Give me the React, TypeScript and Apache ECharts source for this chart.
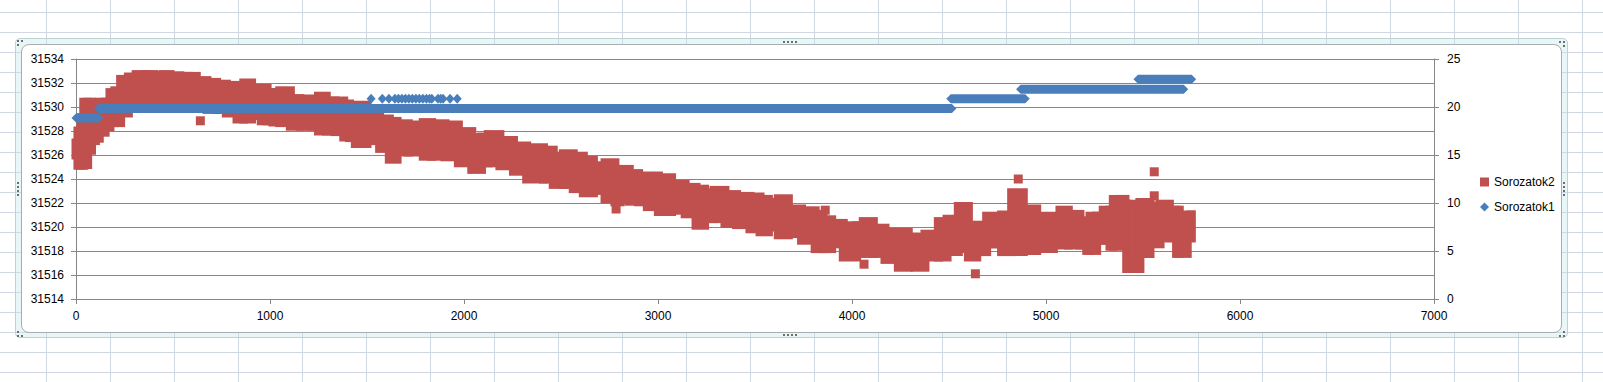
import React, { useEffect, useRef } from "react";
import * as echarts from "echarts";

// ---- data ----
const xTicks = [0, 1000, 2000, 3000, 4000, 5000, 6000, 7000];
const leftTicks = [31514, 31516, 31518, 31520, 31522, 31524, 31526, 31528, 31530, 31532, 31534];
const rightTicks = [0, 5, 10, 15, 20, 25];

// Sorozatok2: dense cloud of square markers, read as columns [x, lowest value, highest value]
const seriesTwoColumns: number[][] = [
  [0, 31526.0, 31527.0], [10, 31525.15, 31528.0], [25, 31525.15, 31529.1], [40, 31525.2, 31530.4],
  [60, 31526.4, 31530.4], [80, 31527.2, 31530.1], [100, 31527.4, 31529.8], [120, 31527.9, 31530.4],
  [150, 31528.35, 31530.4], [175, 31528.7, 31531.2], [200, 31528.7, 31531.35], [230, 31529.5, 31532.3],
  [270, 31529.9, 31532.5], [310, 31530.0, 31532.7], [360, 31530.0, 31532.7], [400, 31530.0, 31532.65],
  [450, 31530.0, 31532.7], [485, 31530.0, 31532.6], [535, 31530.0, 31532.55], [580, 31530.0, 31532.55],
  [620, 31530.0, 31532.2], [675, 31529.8, 31532.05], [725, 31529.8, 31531.9], [775, 31529.5, 31531.8],
  [830, 31529.0, 31531.6], [865, 31529.0, 31532.0], [905, 31529.3, 31531.55], [955, 31528.85, 31531.55],
  [985, 31528.85, 31531.2], [1015, 31528.75, 31531.2], [1050, 31528.7, 31531.35], [1105, 31528.4, 31530.7],
  [1155, 31528.4, 31530.65], [1205, 31528.4, 31530.65], [1250, 31528.0, 31530.9], [1290, 31528.0, 31530.5],
  [1335, 31527.95, 31530.5], [1380, 31527.5, 31530.25], [1410, 31527.45, 31530.1], [1440, 31526.95, 31530.15],
  [1500, 31527.2, 31529.4], [1565, 31526.55, 31529.0], [1615, 31525.65, 31528.8], [1655, 31526.25, 31528.6],
  [1713, 31526.25, 31528.5], [1790, 31525.9, 31528.7], [1833, 31525.9, 31528.6], [1902, 31525.85, 31528.5],
  [1971, 31525.35, 31527.95], [2040, 31524.8, 31527.45], [2090, 31525.35, 31527.5], [2125, 31525.35, 31527.7],
  [2185, 31525.1, 31527.2], [2255, 31524.65, 31526.75], [2323, 31524.0, 31526.6], [2410, 31524.0, 31526.4],
  [2460, 31523.55, 31525.9], [2512, 31523.55, 31526.1], [2563, 31523.2, 31525.9], [2615, 31522.85, 31525.55],
  [2667, 31523.05, 31525.1], [2727, 31522.35, 31525.35], [2778, 31522.1, 31524.7], [2805, 31522.35, 31524.8],
  [2852, 31522.15, 31524.45], [2900, 31522.1, 31524.2], [2945, 31521.7, 31524.25], [3002, 31521.3, 31524.1],
  [3070, 31521.4, 31523.55], [3140, 31521.1, 31523.3], [3196, 31520.15, 31523.15], [3240, 31520.7, 31522.85],
  [3289, 31520.7, 31523.05], [3345, 31520.3, 31522.7], [3405, 31520.2, 31522.55], [3474, 31519.85, 31522.5],
  [3526, 31519.6, 31522.3], [3569, 31520.0, 31522.05], [3620, 31519.35, 31522.35], [3672, 31519.45, 31521.5],
  [3740, 31518.9, 31521.35], [3810, 31518.2, 31521.05], [3850, 31518.2, 31520.6], [3895, 31518.6, 31520.3],
  [3955, 31517.5, 31520.1], [4024, 31517.8, 31520.1], [4058, 31517.8, 31520.45], [4110, 31517.8, 31519.9],
  [4170, 31517.3, 31519.55], [4239, 31516.65, 31519.55], [4290, 31517.25, 31519.15], [4325, 31516.65, 31519.15],
  [4376, 31517.5, 31519.4], [4445, 31517.5, 31520.45], [4490, 31517.95, 31520.65], [4548, 31518.2, 31521.7],
  [4600, 31517.5, 31519.65], [4643, 31517.95, 31520.15], [4694, 31518.6, 31520.9], [4737, 31518.6, 31520.65],
  [4771, 31517.95, 31521.0], [4823, 31517.95, 31522.85], [4883, 31518.05, 31521.5], [4952, 31518.2, 31520.9],
  [5038, 31518.9, 31520.85], [5072, 31518.5, 31521.4], [5115, 31518.5, 31521.05], [5175, 31518.5, 31520.5],
  [5210, 31518.05, 31520.5], [5227, 31518.05, 31520.9], [5261, 31518.9, 31520.9], [5295, 31518.9, 31521.4],
  [5330, 31518.4, 31521.4], [5347, 31518.4, 31522.3], [5381, 31519.2, 31522.3], [5407, 31519.2, 31521.9],
  [5416, 31516.55, 31521.9], [5450, 31516.55, 31521.35], [5484, 31517.8, 31522.05], [5536, 31518.6, 31521.75],
  [5588, 31519.1, 31521.9], [5636, 31519.1, 31521.4], [5673, 31517.8, 31521.4], [5687, 31517.8, 31520.9],
  [5728, 31519.1, 31521.0], [5748, 31519.1, 31521.0],
];

// Sorozatok2: isolated squares standing apart from the cloud
const seriesTwoOutliers: number[][] = [
  [641, 31528.85], [2784, 31521.5], [3862, 31521.4], [4062, 31516.9],
  [4636, 31516.1], [4857, 31524.0], [5558, 31524.6], [5558, 31522.6],
];

// Sorozatok1: runs of diamonds at constant level [first x, last x, value]
const seriesOneRuns: number[][] = [
  [0, 117, 18.85],
  [116, 4515, 19.85],
  [4509, 4893, 20.85],
  [4869, 5710, 21.85],
  [5474, 5751, 22.9],
];

// Sorozatok1: single diamonds above the main run
const seriesOneDotsX = [1521, 1579, 1613, 1644, 1662, 1680, 1698, 1716, 1734, 1752, 1770, 1788, 1806, 1822, 1834, 1866, 1880, 1892, 1928, 1965];
const seriesOneDotsValue = 20.85;

const RED = "#C0504D";
const BLUE = "#4A7EBB";
const AXIS = "#868686";
const FONT = "'Liberation Sans', Arial, sans-serif";
const HALF = 4.5;

export default function App() {
  const ref = useRef<HTMLDivElement>(null);

  useEffect(() => {
    document.body.style.margin = "0";
    if (!ref.current) return;
    const chart = echarts.init(ref.current, undefined, { renderer: "svg" });

    const redRender = (params: any, api: any) => {
      const i = params.dataIndex;
      const x0 = api.value(0);
      const lo = api.value(1);
      const hi = api.value(2);
      const next = seriesTwoColumns[i + 1];
      const x1 = next ? next[0] : x0;
      const pTop = api.coord([x0, hi]);
      const pBot = api.coord([x1, lo]);
      return {
        type: "rect",
        shape: {
          x: pTop[0] - HALF,
          y: pTop[1] - HALF,
          width: pBot[0] - pTop[0] + 2 * HALF,
          height: pBot[1] - pTop[1] + 2 * HALF,
        },
        style: { fill: RED },
      };
    };

    const blueRender = (params: any, api: any) => {
      const a = api.coord([api.value(0), api.value(2)]);
      const b = api.coord([api.value(1), api.value(2)]);
      const y = a[1];
      return {
        type: "polygon",
        shape: {
          points: [
            [a[0] - HALF, y],
            [a[0], y - HALF],
            [b[0], y - HALF],
            [b[0] + HALF, y],
            [b[0], y + HALF],
            [a[0], y + HALF],
          ],
        },
        style: { fill: BLUE },
      };
    };

    const label = { fontFamily: FONT, fontSize: 12, color: "#000" };

    chart.setOption({
      animation: false,
      grid: { left: 76, top: 59, width: 1358, height: 240, containLabel: false },
      legend: {
        orient: "vertical",
        left: 1475,
        top: 171,
        itemWidth: 9,
        itemHeight: 9,
        itemGap: 13,
        selectedMode: false,
        textStyle: { ...label, lineHeight: 12 },
        data: [
          { name: "Sorozatok2", icon: "rect" },
          { name: "Sorozatok1", icon: "diamond" },
        ],
      },
      xAxis: {
        type: "value",
        min: xTicks[0],
        max: xTicks[xTicks.length - 1],
        interval: xTicks[1] - xTicks[0],
        axisLine: { show: true, onZero: false, lineStyle: { color: AXIS } },
        axisTick: { show: true, length: 5, lineStyle: { color: AXIS } },
        splitLine: { show: false },
        axisLabel: { ...label, margin: 11, showMinLabel: true, showMaxLabel: true, formatter: (v: number) => String(v) },
      },
      yAxis: [
        {
          type: "value",
          position: "left",
          min: leftTicks[0],
          max: leftTicks[leftTicks.length - 1],
          interval: leftTicks[1] - leftTicks[0],
          axisLine: { show: true, lineStyle: { color: AXIS } },
          axisTick: { show: true, length: 5, lineStyle: { color: AXIS } },
          splitLine: { show: true, lineStyle: { color: AXIS, width: 1 } },
          axisLabel: { ...label, margin: 12, formatter: (v: number) => String(v) },
        },
        {
          type: "value",
          position: "right",
          min: rightTicks[0],
          max: rightTicks[rightTicks.length - 1],
          interval: rightTicks[1] - rightTicks[0],
          axisLine: { show: true, lineStyle: { color: AXIS } },
          axisTick: { show: true, length: 5, lineStyle: { color: AXIS } },
          splitLine: { show: false },
          axisLabel: { ...label, margin: 13, formatter: (v: number) => String(v) },
        },
      ],
      series: [
        {
          name: "Sorozatok2",
          type: "custom",
          xAxisIndex: 0,
          yAxisIndex: 0,
          renderItem: redRender,
          itemStyle: { color: RED, opacity: 1 },
          encode: { x: 0, y: [1, 2] },
          data: seriesTwoColumns,
          z: 2,
        },
        {
          name: "Sorozatok2",
          type: "scatter",
          yAxisIndex: 0,
          symbol: "rect",
          symbolSize: 9,
          itemStyle: { color: RED, opacity: 1 },
          data: seriesTwoOutliers,
          z: 2,
        },
        {
          name: "Sorozatok1",
          type: "custom",
          xAxisIndex: 0,
          yAxisIndex: 1,
          renderItem: blueRender,
          itemStyle: { color: BLUE, opacity: 1 },
          encode: { x: [0, 1], y: 2 },
          data: seriesOneRuns,
          z: 3,
        },
        {
          name: "Sorozatok1",
          type: "scatter",
          yAxisIndex: 1,
          symbol: "diamond",
          symbolSize: [9, 10],
          itemStyle: { color: BLUE, opacity: 1 },
          data: seriesOneDotsX.map((x) => [x, seriesOneDotsValue]),
          z: 3,
        },
      ],
    });

    return () => chart.dispose();
  }, []);

  const dot = (x: number, y: number, key: string) => (
    <div key={key} style={{ position: "absolute", left: x, top: y, width: 2, height: 2, background: "#6e6e6e" }} />
  );

  const dots: React.ReactNode[] = [];
  [783, 787, 791, 795].forEach((x, i) => {
    dots.push(dot(x, 41, "t" + i));
    dots.push(dot(x, 334, "b" + i));
  });
  [182, 186, 190, 194].forEach((y, i) => {
    dots.push(dot(17, y, "l" + i));
    dots.push(dot(1563, y, "r" + i));
  });
  [[17, 40], [21, 40], [17, 44], [1559, 41], [1563, 41], [1563, 45], [17, 331], [17, 335], [21, 335], [1563, 331], [1559, 335], [1563, 335]].forEach(
    (p, i) => dots.push(dot(p[0], p[1], "c" + i))
  );

  return (
    <div
      style={{
        position: "relative",
        width: 1603,
        height: 382,
        overflow: "hidden",
        backgroundColor: "#fff",
        backgroundImage:
          "linear-gradient(to right, #d0d7e5 1px, transparent 1px), linear-gradient(to bottom, #d0d7e5 1px, transparent 1px)",
        backgroundSize: "64px 20px",
        backgroundPosition: "46px 12px",
      }}
    >
      <div
        style={{
          position: "absolute",
          left: 15,
          top: 38,
          width: 1553,
          height: 300,
          boxSizing: "border-box",
          border: "1px solid #b9d3d6",
          borderRadius: 5,
          background: "rgba(190, 228, 232, 0.35)",
        }}
      />
      <div
        style={{
          position: "absolute",
          left: 21,
          top: 44,
          width: 1541,
          height: 289,
          boxSizing: "border-box",
          border: "1px solid #a8adad",
          borderRadius: 8,
          background: "#fff",
        }}
      />
      {dots}
      <div ref={ref} style={{ position: "absolute", left: 0, top: 0, width: 1603, height: 382 }} />
    </div>
  );
}
